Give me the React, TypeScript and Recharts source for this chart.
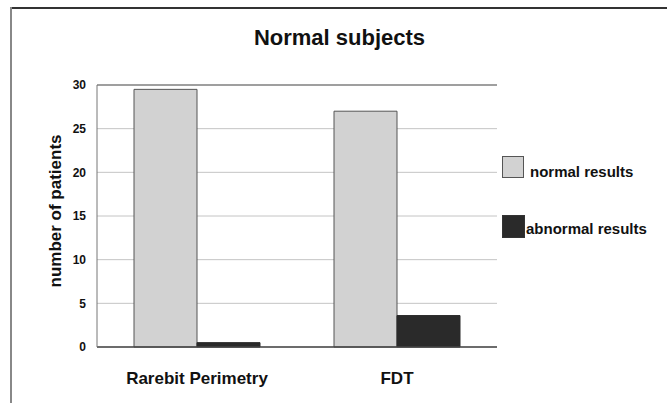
import React from 'react'
import { BarChart, Bar, XAxis, YAxis, CartesianGrid, ReferenceLine } from 'recharts'

const categories = ['Rarebit Perimetry', 'FDT']
const normalResults = [29.5, 27.0]
const abnormalResults = [0.5, 3.6]
const yTicks = [0, 5, 10, 15, 20, 25, 30]

const data = categories.map((name, i) => ({
  name,
  normal: normalResults[i],
  abnormal: abnormalResults[i],
}))

const font = 'Arial, "Liberation Sans", Helvetica, sans-serif'

const LegendBox = () => (
  <div
    style={{
      position: 'absolute', left: 502, top: 156, width: 165,
      fontFamily: font, fontWeight: 'bold', fontSize: 15, color: '#111',
    }}
  >
    <div style={{ display: 'flex', alignItems: 'center', height: 22 }}>
      <div style={{ width: 20, height: 20, background: '#d2d2d2', border: '1px solid #555' }} />
      <span style={{ marginLeft: 6, position: 'relative', top: 4 }}>normal results</span>
    </div>
    <div style={{ display: 'flex', alignItems: 'center', height: 22, marginTop: 37 }}>
      <div style={{ width: 21, height: 21, background: '#2a2a2a', border: '1px solid #333' }} />
      <span style={{ marginLeft: 1, position: 'relative', top: 2 }}>abnormal results</span>
    </div>
  </div>
)

export default function App() {
  return (
    <div style={{ position: 'absolute', left: 0, top: 0, width: 667, height: 403, background: '#fff' }}>
      <div style={{ position: 'absolute', left: 10, top: 7, right: 0, height: 2, background: '#333' }} />
      <div style={{ position: 'absolute', left: 10, top: 7, bottom: 0, width: 2, background: '#888' }} />
      <div
        style={{
          position: 'absolute', left: 0, width: 667, top: 25, textAlign: 'center',
          fontFamily: font, fontWeight: 'bold', fontSize: 22, color: '#111', paddingLeft: 6,
        }}
      >
        Normal subjects
      </div>
      <BarChart
        width={667}
        height={403}
        data={data}
        margin={{ top: 85, right: 170, left: 0, bottom: 0 }}
        barCategoryGap="18.5%"
        barGap={0}
        style={{ position: 'absolute', left: 0, top: 0 }}
      >
        <CartesianGrid vertical={false} stroke="#c4c4c4" strokeWidth={1} />
        <XAxis
          dataKey="name"
          height={56}
          axisLine={{ stroke: '#444', strokeWidth: 1.5 }}
          tickLine={false}
          tickMargin={19}
          tick={{ fontFamily: font, fontWeight: 'bold', fontSize: 17, fill: '#111' }}
        />
        <YAxis
          width={97}
          domain={[0, 30]}
          ticks={yTicks}
          axisLine={{ stroke: '#777', strokeWidth: 1 }}
          tickLine={false}
          tickSize={6}
          tickMargin={5}
          tick={{ fontFamily: font, fontWeight: 'bold', fontSize: 12, fill: '#111' }}
          label={{
            content: () => (
              <text
                x={55}
                y={211}
                transform="rotate(-90, 55, 211)"
                textAnchor="middle"
                dominantBaseline="central"
                style={{ fontFamily: font, fontWeight: 'bold', fontSize: 17, fill: '#111' }}
              >
                number of patients
              </text>
            ),
          }}
        />
        <YAxis yAxisId="right" orientation="right" width={0} tick={false} tickLine={false} axisLine={{ stroke: '#777' }} domain={[0, 30]} />
        <ReferenceLine y={30} stroke="#888" strokeWidth={1.5} />
        <Bar dataKey="normal" name="normal results" fill="#d2d2d2" stroke="#555" strokeWidth={1} isAnimationActive={false} />
        <Bar dataKey="abnormal" name="abnormal results" fill="#2a2a2a" stroke="#2a2a2a" strokeWidth={1} isAnimationActive={false} />
      </BarChart>
      <LegendBox />
    </div>
  )
}
